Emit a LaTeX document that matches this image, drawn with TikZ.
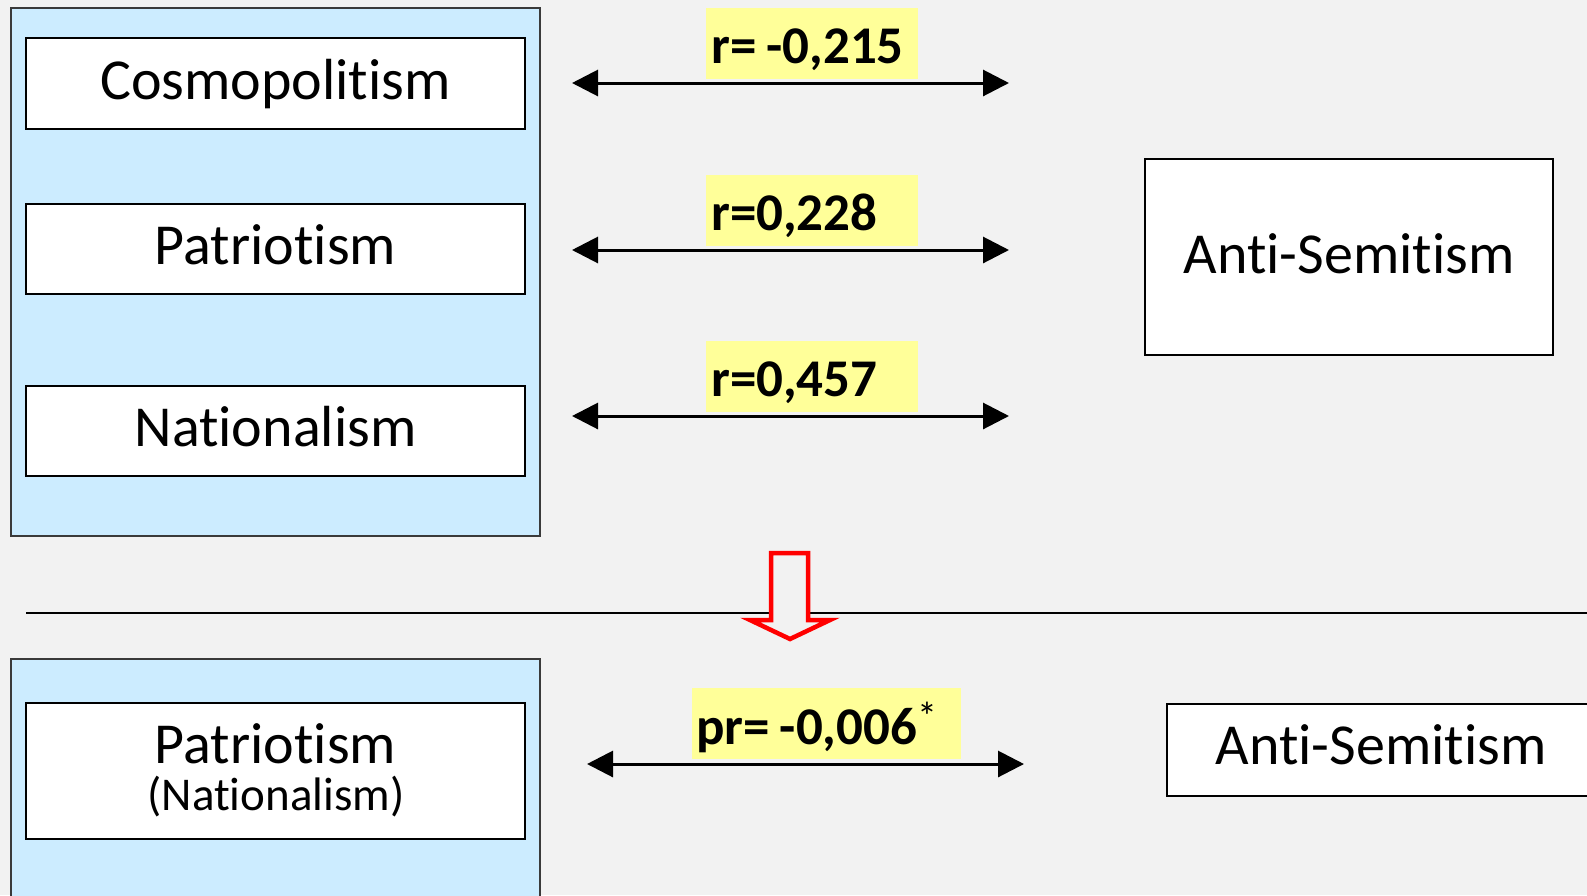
\documentclass[tikz,border=0pt]{standalone}
\usepackage{fontspec}
\setmainfont{Carlito}[Ligatures={NoCommon,NoRare}]
\usetikzlibrary{arrows.meta}
\definecolor{bg}{HTML}{F2F2F2}
\definecolor{panel}{HTML}{CCECFF}
\definecolor{hilite}{HTML}{FFFF99}
\definecolor{frame}{HTML}{3A3A3A}

\begin{document}
\begin{tikzpicture}[x=1pt,y=-1pt,
  panelbox/.style={draw=frame, line width=1.5pt, fill=panel, inner sep=0pt, minimum width=529pt},
  varbox/.style={draw=black, line width=1.6pt, fill=white, inner sep=0pt,
    text height=31pt, text depth=0pt, font=\fontsize{58}{60}\selectfont},
  corr/.style={fill=hilite, anchor=north west, inner xsep=5pt, inner ysep=0pt,
    align=left, minimum height=71pt, text depth=0pt,
    font=\fontsize{53}{60}\selectfont\bfseries},
  link/.style={line width=3pt,
    {Triangle[length=26pt,width=26pt]}-{Triangle[length=26pt,width=26pt]}},
]
% canvas
\useasboundingbox (0,0) rectangle (1587,895);
\clip (0,0) rectangle (1587,895);
\fill[bg] (0,0) rectangle (1587,895);

% upper panel: three orientations
\node[panelbox, minimum height=528pt] (upper) at (275.5,272) {};
\node[varbox, minimum width=499pt, minimum height=91pt] (cosmo) at (275.5,83.5) {Cosmopolitism};
\node[varbox, minimum width=499pt, minimum height=90pt] (patr) at (275.5,249) {Patriotism};
\node[varbox, minimum width=499pt, minimum height=90pt] (nat) at (275.5,431) {Nationalism};

% outcome
\node[varbox, minimum width=408pt, minimum height=196pt, text height=32pt] (anti) at (1349,257) {Anti-Semitism};

% correlations
\coordinate (l1) at (572,83);  \coordinate (r1) at (1009,83);
\coordinate (l2) at (572,250); \coordinate (r2) at (1009,250);
\coordinate (l3) at (572,416); \coordinate (r3) at (1009,416);
\draw[link] (l1) -- (r1);
\draw[link] (l2) -- (r2);
\draw[link] (l3) -- (r3);
\node[corr, text width=202pt, text height=39pt] (c1) at (706,8) {\mbox{r=\hspace{10pt}-0,215}};
\node[corr, text width=202pt, text height=39pt] (c2) at (706,175) {\mbox{r=0,228}};
\node[corr, text width=202pt, text height=39pt] (c3) at (706,341) {\mbox{r=0,457}};

% divider
\coordinate (divl) at (26,613);
\coordinate (divr) at (1600,613);
\draw[line width=1.8pt] (divl) -- (divr);

% hollow down arrow
\draw[red, line width=4.5pt, fill=bg, miter limit=10]
  (771,553) -- (808,553) -- (808,620) -- (830,620) -- (790,639)
  -- (750,620) -- (771,620) -- cycle;

% lower panel: partial correlation
\node[panelbox, minimum height=261pt] (lower) at (275.5,789.5) {};
\node[varbox, minimum width=499pt, minimum height=136pt] (pn) at (275.5,771) {};
\node[anchor=base, font=\fontsize{58}{60}\selectfont, inner sep=0pt] (pnA) at (275.5,763) {Patriotism};
\node[anchor=base, font=\fontsize{47}{50}\selectfont, inner sep=0pt] (pnB) at (276,810) {(Nationalism)};

\node[varbox, minimum width=428pt, minimum height=92pt, text height=28pt] (anti2) at (1381,750) {Anti-Semitism};

\coordinate (l4) at (587,764); \coordinate (r4) at (1024,764);
\draw[link] (l4) -- (r4);
\node[corr, text width=261pt, inner xsep=4pt, text height=41pt] (c4) at (692,688)
  {\mbox{pr=\hspace{10pt}-0,006\raisebox{14pt}{\fontsize{40}{40}\selectfont\mdseries *}}};
\end{tikzpicture}
\end{document}
